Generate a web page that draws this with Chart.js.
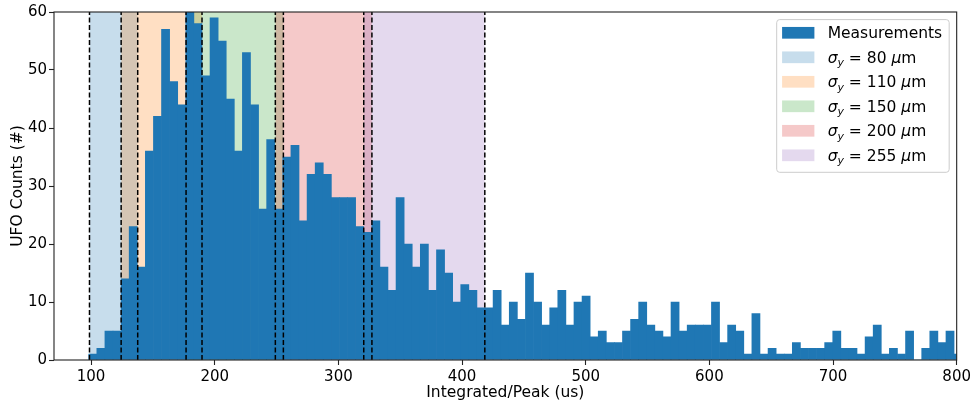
<!DOCTYPE html>
<html>
<head>
<meta charset="utf-8">
<title>UFO counts vs Integrated/Peak</title>
<script src="https://cdn.jsdelivr.net/npm/chart.js@4.4.1/dist/chart.umd.min.js"></script>
<style>
  html, body { margin: 0; padding: 0; background: #fff; }
</style>
</head>
<body>
<canvas id="ufo-chart" width="974" height="402"></canvas>
<script>
/* Histogram of Integrated/Peak (us) */
const binStart = 98.1;
const binWidth = 6.54;
const counts = [
  1, 2, 5, 5, 14, 23, 16, 36, 42, 57, 48, 44, 61, 58, 49, 59, 55, 45, 36, 53, 44, 26, 38, 26, 35, 37, 24,
  32, 34, 32, 28, 28, 28, 23, 22, 24, 16, 12, 28, 20, 16, 20, 12, 19, 15, 10, 13, 12, 9, 9, 12, 6, 10, 7, 15,
  10, 6, 9, 12, 6, 10, 11, 4, 5, 3, 3, 5, 7, 10, 6, 5, 4, 10, 5, 6, 6, 6, 10, 3, 6, 5,
  1, 8, 1, 2, 1, 1, 3, 2, 2, 2, 3, 5, 2, 2, 1, 4, 6, 1, 2, 1, 5, 0, 2, 5, 3, 5, 1
];

// sigma_y windows (us), each drawn as a shaded span with dashed edges
const sigmaValues = [ 80, 110, 150, 200, 255 ];
const regionStarts = [ 98.7, 124.3, 176.8, 249.0, 320.5 ];
const regionEnds = [ 137.7, 189.7, 255.5, 327.1, 418.4 ];
const regionColors = [
  'rgba(31, 119, 180, 0.25)',
  'rgba(255, 127, 14, 0.25)',
  'rgba(44, 160, 44, 0.25)',
  'rgba(214, 39, 40, 0.25)',
  'rgba(148, 103, 189, 0.25)'
];

const xTicks = [ 100, 200, 300, 400, 500, 600, 700, 800 ];
const yTicks = [ 0, 10, 20, 30, 40, 50, 60 ];

const FONT = '"DejaVu Sans", "Liberation Sans", sans-serif';

Chart.defaults.font.family = FONT;
Chart.defaults.color = '#000';

let datasets = [];

datasets.push( {
  type: 'bar',
  label: 'Measurements',
  inLegend: true,
  data: counts.map( ( c, i ) => ( { x: binStart + ( i + 0.5 ) * binWidth, y: c } ) ),
  backgroundColor: '#1f77b4',
  borderWidth: 0,
  barPercentage: 1,
  categoryPercentage: 1,
  grouped: false,
  clip: 0,
  order: 1
} );

regionStarts.forEach( ( start, i ) => {
  datasets.push( {
    type: 'line',
    label: 'sigma_y = ' + sigmaValues[ i ] + ' um',
    inLegend: true,
    sigma: sigmaValues[ i ],
    data: [ { x: start, y: 60 }, { x: regionEnds[ i ], y: 60 } ],
    backgroundColor: regionColors[ i ],
    borderColor: 'rgba(0, 0, 0, 0)',
    borderWidth: 0,
    pointRadius: 0,
    fill: 'origin',
    order: 10 - i // first span underneath, later spans painted over it
  } );
} );

// dashed edges on top of the bars
regionStarts.concat( regionEnds ).forEach( ( edge ) => {
  datasets.push( {
    type: 'line',
    data: [ { x: edge, y: 0 }, { x: edge, y: 60 } ],
    borderColor: '#000',
    borderWidth: 1.5,
    borderDash: [ 5, 2.5 ],
    pointRadius: 0,
    fill: false,
    order: 0
  } );
} );

// matplotlib style box round the axes
const axesFrame = {
  id: 'axesFrame',
  afterDatasetsDraw( chart ) {
    let ctx = chart.ctx;
    let a = chart.chartArea;
    ctx.save();
    ctx.strokeStyle = '#222';
    ctx.lineWidth = 1.1;
    ctx.strokeRect( a.left, a.top, a.right - a.left, a.bottom - a.top );
    ctx.restore();
  }
};

// legend in the upper right of the axes, with the sigma_y math labels
const insideLegend = {
  id: 'insideLegend',
  afterDraw( chart ) {
    let ctx = chart.ctx;
    let area = chart.chartArea;
    let size = 15.5;
    let upright = size + 'px ' + FONT;
    let italic = 'italic ' + size + 'px ' + FONT;
    let small = 'italic ' + ( size * 0.7 ) + 'px ' + FONT;
    let items = chart.data.datasets.filter( ( ds ) => ds.inLegend );

    let rows = items.map( ( ds ) => {
      let parts;
      if ( ds.sigma == null ) {
        parts = [ { text: ds.label, font: upright, dy: 0 } ];
      } else {
        parts = [
          { text: 'σ', font: italic, dy: 0 },
          { text: 'y', font: small, dy: size * 0.22 },
          { text: ' = ' + ds.sigma + ' ', font: upright, dy: 0 },
          { text: 'μ', font: italic, dy: 0 },
          { text: 'm', font: upright, dy: 0 }
        ];
      }
      let width = 0;
      parts.forEach( ( p ) => {
        ctx.font = p.font;
        p.w = ctx.measureText( p.text ).width;
        width += p.w;
      } );
      return { color: ds.backgroundColor, parts: parts, width: width };
    } );

    let rowH = 24.5;
    let handleW = 32.3;
    let handleH = 11.7;
    let textW = Math.max.apply( null, rows.map( ( r ) => r.width ) );
    let boxW = 5.4 + handleW + 13.3 + textW + 7;
    let boxH = 13.2 + ( rows.length - 1 ) * rowH + 17;
    let x0 = area.right - 7.5 - boxW;
    let y0 = area.top + 7.6;
    let r = 3;

    ctx.save();
    ctx.beginPath();
    ctx.moveTo( x0 + r, y0 );
    ctx.arcTo( x0 + boxW, y0, x0 + boxW, y0 + boxH, r );
    ctx.arcTo( x0 + boxW, y0 + boxH, x0, y0 + boxH, r );
    ctx.arcTo( x0, y0 + boxH, x0, y0, r );
    ctx.arcTo( x0, y0, x0 + boxW, y0, r );
    ctx.closePath();
    ctx.fillStyle = 'rgba(255, 255, 255, 0.8)';
    ctx.fill();
    ctx.strokeStyle = '#cccccc';
    ctx.lineWidth = 1;
    ctx.stroke();

    rows.forEach( ( row, i ) => {
      let cy = y0 + 13.2 + i * rowH;
      ctx.fillStyle = row.color;
      ctx.fillRect( x0 + 5.4, cy - handleH / 2, handleW, handleH );

      let tx = x0 + 5.4 + handleW + 13.3;
      ctx.fillStyle = '#000';
      ctx.textBaseline = 'alphabetic';
      ctx.textAlign = 'left';
      row.parts.forEach( ( p ) => {
        ctx.font = p.font;
        ctx.fillText( p.text, tx, cy + 5.6 + p.dy );
        tx += p.w;
      } );
    } );
    ctx.restore();
  }
};

new Chart( document.getElementById( 'ufo-chart' ), {
  type: 'bar',
  data: { datasets: datasets },
  plugins: [ axesFrame, insideLegend ],
  options: {
    responsive: false,
    animation: false,
    layout: { padding: { left: 0, right: 16, top: 12, bottom: 0 } },
    plugins: {
      legend: { display: false },
      tooltip: { enabled: false }
    },
    scales: {
      x: {
        type: 'linear',
        min: 70,
        max: 800,
        offset: false,
        afterBuildTicks: ( scale ) => { scale.ticks = xTicks.map( ( v ) => ( { value: v } ) ); },
        afterFit: ( scale ) => { scale.height = 42; },
        grid: { display: true, offset: false, drawOnChartArea: false, drawTicks: true, tickLength: 5, tickColor: '#222', tickWidth: 1.1 },
        border: { display: false },
        ticks: { padding: 3, font: { size: 15 }, maxRotation: 0, autoSkip: false },
        title: { display: true, text: 'Integrated/Peak (us)', font: { size: 15.5 }, padding: { top: 0, bottom: 0 } }
      },
      y: {
        type: 'linear',
        min: 0,
        max: 60,
        afterBuildTicks: ( scale ) => { scale.ticks = yTicks.map( ( v ) => ( { value: v } ) ); },
        afterFit: ( scale ) => { scale.width = 54; },
        grid: { display: true, drawOnChartArea: false, drawTicks: true, tickLength: 5, tickColor: '#222', tickWidth: 1.1 },
        border: { display: false },
        ticks: { padding: 2, font: { size: 15 } },
        title: { display: true, text: 'UFO Counts (#)', font: { size: 15.5 }, padding: { top: 9, bottom: 0 } }
      }
    }
  }
} );
</script>
</body>
</html>
